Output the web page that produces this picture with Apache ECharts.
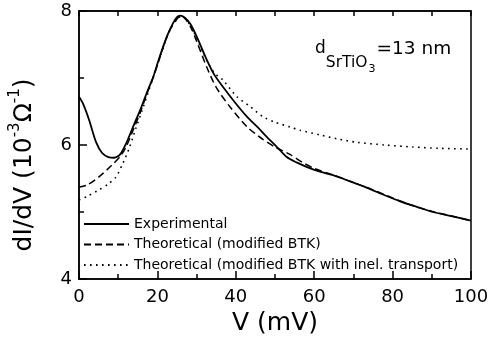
<!DOCTYPE html>
<html>
<head>
<meta charset="utf-8">
<script src="https://cdn.jsdelivr.net/npm/echarts@6/dist/echarts.min.js"></script>
<style>
  html, body { margin: 0; padding: 0; background: #fff; }
  #chart { width: 491px; height: 341px; }
</style>
</head>
<body>
<div id="chart"></div>
<script>
// bias voltage (mV) and conductance (10^-3 / ohm)
var vExp = [0, 1, 2.6, 4.3, 5.9, 7.5, 9, 10.5, 12, 14, 15.6, 17.3, 18.9, 20.2, 21.4, 22.7, 24, 25, 25.8, 27, 28.5, 30.1, 32.6, 34.5, 36.7, 40, 42.9, 45.5, 47.9, 50.5, 53, 55.5, 58.2, 61, 64.8, 69, 73.5, 78, 81.9, 86, 90.3, 95, 100];
var gExp = [6.72, 6.62, 6.37, 6.05, 5.88, 5.82, 5.81, 5.86, 6.02, 6.30, 6.52, 6.78, 7.01, 7.25, 7.46, 7.66, 7.82, 7.91, 7.93, 7.90, 7.80, 7.61, 7.27, 7.05, 6.87, 6.62, 6.42, 6.27, 6.12, 5.97, 5.82, 5.74, 5.67, 5.61, 5.55, 5.46, 5.36, 5.25, 5.16, 5.08, 5.00, 4.94, 4.87];

var vBtk = [0, 2, 5, 8.4, 10.5, 12, 14, 15.6, 17.3, 19, 20.5, 22, 23.5, 25, 26, 27, 28.5, 30, 32.6, 35, 38.5, 42.9, 47, 50, 53.8, 57, 60, 65, 70, 75, 80, 85, 90, 95, 100];
var gBtk = [5.37, 5.40, 5.52, 5.70, 5.83, 5.97, 6.25, 6.48, 6.76, 7.02, 7.28, 7.55, 7.75, 7.88, 7.93, 7.89, 7.76, 7.55, 7.16, 6.86, 6.57, 6.27, 6.08, 5.97, 5.86, 5.74, 5.65, 5.55, 5.44, 5.33, 5.21, 5.10, 5.01, 4.94, 4.87];

var vInel = [0, 2, 5.1, 7.5, 9.4, 11, 12.8, 14.5, 16, 17.5, 19, 20.5, 22, 23.5, 25, 26, 27, 28.5, 30, 32.6, 34.5, 36.7, 40.3, 43.5, 47, 50, 53.8, 56.4, 61.5, 66, 70.9, 78, 85.2, 92, 100];
var gInel = [5.18, 5.23, 5.33, 5.42, 5.52, 5.70, 5.95, 6.25, 6.50, 6.76, 7.02, 7.28, 7.54, 7.75, 7.88, 7.92, 7.89, 7.78, 7.60, 7.26, 7.08, 6.97, 6.72, 6.58, 6.42, 6.34, 6.27, 6.22, 6.15, 6.09, 6.04, 6.00, 5.97, 5.95, 5.94];

var seriesNames = ['Experimental', 'Theoretical (modified BTK)', 'Theoretical (modified BTK with inel. transport)'];

var font = '"DejaVu Sans", "Liberation Sans", Arial, sans-serif';

function pairs(xs, ys) {
    return xs.map(function (x, i) { return [x, ys[i]]; });
}

// fresh objects each time
function tick(len) {
    return {show: true, inside: true, length: len, lineStyle: {color: '#000', width: 1.5}};
}
function minor(len) {
    return {show: true, splitNumber: 2, length: len, lineStyle: {color: '#000', width: 1.5}};
}

var chart = echarts.init(document.getElementById('chart'));

chart.setOption({
    animation: false,
    grid: {
        left: 79, right: 20, top: 11, bottom: 62,
        outerBoundsMode: 'none',
        show: true, borderColor: '#000', borderWidth: 1.5
    },
    // d_SrTiO3 label with subscripts
    title: {
        left: 315,
        top: 40,
        padding: 0,
        text: '{d|d}{s|SrTiO}{t|3}{e|=13 nm}',
        textStyle: {
            fontFamily: font,
            fontWeight: 'normal',
            color: '#000',
            rich: {
                d: {fontSize: 17, lineHeight: 17, verticalAlign: 'top', fontFamily: font, fontWeight: 'normal', color: '#000'},
                s: {fontSize: 15.5, lineHeight: 15.5, padding: [15, 0, 0, 0], verticalAlign: 'top', fontFamily: font, fontWeight: 'normal', color: '#000'},
                t: {fontSize: 11, lineHeight: 11, padding: [24, 0, 0, 1], verticalAlign: 'top', fontFamily: font, fontWeight: 'normal', color: '#000'},
                e: {fontSize: 18.5, lineHeight: 17, padding: [0, 0, 0, 1], verticalAlign: 'top', fontFamily: font, fontWeight: 'normal', color: '#000'}
            }
        }
    },
    legend: {
        orient: 'vertical',
        left: 83,
        top: 217,
        padding: 0,
        itemWidth: 45,
        itemHeight: 10,
        itemGap: 6.5,
        itemStyle: {opacity: 0},
        textStyle: {fontFamily: font, fontSize: 14, color: '#000'},
        data: seriesNames
    },
    xAxis: [{
        type: 'value',
        min: 0,
        max: 100,
        interval: 20,
        name: 'V (mV)',
        nameLocation: 'middle',
        nameGap: 27,
        nameTextStyle: {fontSize: 25, fontFamily: font, color: '#000'},
        axisLine: {show: true, lineStyle: {color: '#000', width: 1.5}},
        axisTick: tick(8),
        minorTick: minor(5),
        axisLabel: {fontSize: 18, margin: 9, color: '#000', fontFamily: font},
        splitLine: {show: false}
    }, {
        // mirrored ticks on top, every 10 mV
        type: 'value',
        position: 'top',
        min: 0,
        max: 100,
        interval: 10,
        axisLine: {show: true, lineStyle: {color: '#000', width: 1.5}},
        axisTick: tick(5),
        axisLabel: {show: false},
        splitLine: {show: false}
    }],
    yAxis: [{
        type: 'value',
        min: 4,
        max: 8,
        interval: 2,
        name: '{a|dI/dV (10}{p|-3}{a|\u03A9}{p|-1}{a|)}',
        nameLocation: 'middle',
        nameGap: 42,
        nameTextStyle: {
            fontFamily: font,
            color: '#000',
            padding: [0, 40, 0, 0],
            rich: {
                a: {fontSize: 25, lineHeight: 29, verticalAlign: 'bottom', fontFamily: font},
                p: {fontSize: 15, lineHeight: 15, verticalAlign: 'top', fontFamily: font}
            }
        },
        axisLine: {show: true, lineStyle: {color: '#000', width: 1.5}},
        axisTick: tick(8),
        minorTick: minor(5),
        axisLabel: {fontSize: 18, margin: 7, color: '#000', fontFamily: font},
        splitLine: {show: false}
    }],
    series: [{
        name: seriesNames[0],
        type: 'line',
        data: pairs(vExp, gExp),
        smooth: 0.25,
        symbol: 'none',
        lineStyle: {color: '#000', width: 1.8, type: 'solid'}
    }, {
        name: seriesNames[1],
        type: 'line',
        data: pairs(vBtk, gBtk),
        smooth: 0.25,
        symbol: 'none',
        lineStyle: {color: '#000', width: 1.5, type: [7, 4]}
    }, {
        name: seriesNames[2],
        type: 'line',
        data: pairs(vInel, gInel),
        smooth: 0.25,
        symbol: 'none',
        lineStyle: {color: '#000', width: 1.6, type: [1.6, 4.4]}
    }]
});
</script>
</body>
</html>
